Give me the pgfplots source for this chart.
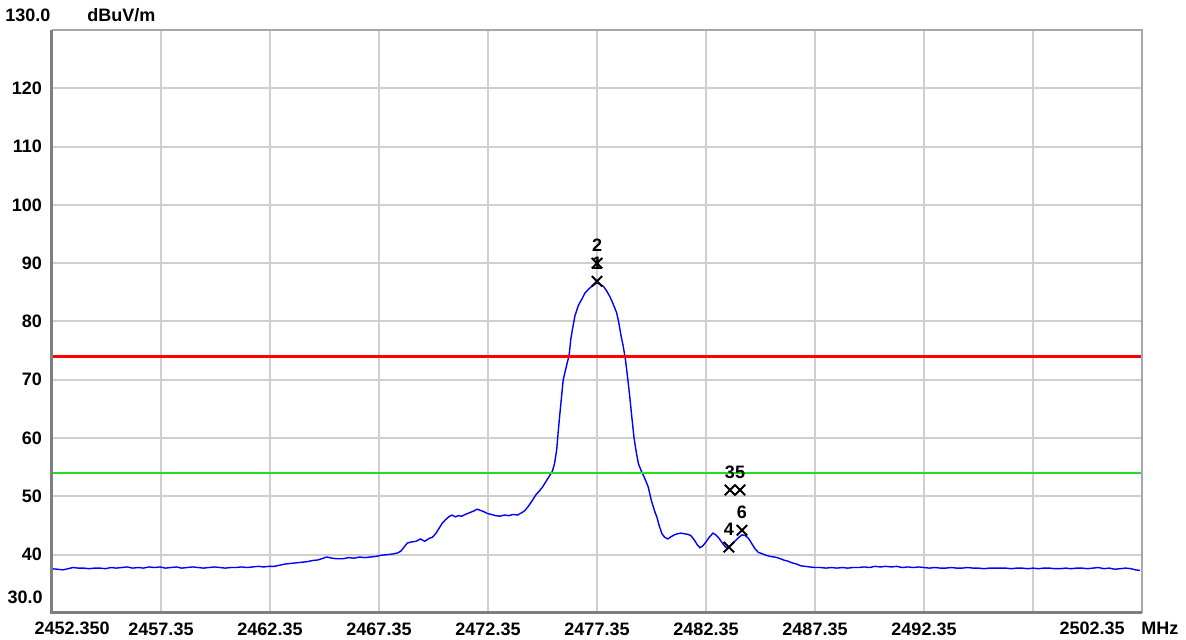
\documentclass[border=0pt]{standalone}
\usepackage{fontspec}
\setmainfont{Liberation Sans}
\usepackage{pgfplots}
\usepackage{pgfplotstable}
\pgfplotsset{compat=1.18}
\definecolor{gridc}{HTML}{CFCFCF}
\definecolor{framedark}{HTML}{7F7F7F}
\definecolor{framelight}{HTML}{A8A8A8}
\definecolor{limred}{HTML}{FF0000}
\definecolor{limgreen}{HTML}{22DD22}
\definecolor{trace}{HTML}{0000FF}
\newcommand{\lf}{\bfseries\fontsize{9}{10}\selectfont}

\pgfplotstableread{
x y
2452.35 37.6
2452.60 37.5
2452.85 37.4
2453.10 37.6
2453.30 37.8
2453.55 37.7
2453.80 37.7
2454.05 37.6
2454.30 37.7
2454.55 37.7
2454.80 37.6
2455.05 37.8
2455.30 37.7
2455.55 37.8
2455.80 37.9
2456.05 37.7
2456.30 37.8
2456.55 37.7
2456.80 37.9
2457.05 37.8
2457.30 37.9
2457.55 37.7
2457.80 37.8
2458.05 37.9
2458.30 37.7
2458.55 37.8
2458.80 37.9
2459.05 37.8
2459.30 37.7
2459.55 37.8
2459.80 37.9
2460.05 37.8
2460.30 37.7
2460.55 37.8
2460.80 37.8
2461.05 37.9
2461.30 37.8
2461.55 37.9
2461.80 38.0
2462.05 37.9
2462.30 38.0
2462.55 38.0
2462.80 38.2
2463.05 38.4
2463.30 38.5
2463.55 38.6
2463.80 38.7
2464.05 38.8
2464.30 39.0
2464.55 39.1
2464.80 39.4
2464.95 39.6
2465.20 39.4
2465.45 39.3
2465.70 39.3
2465.95 39.5
2466.20 39.4
2466.45 39.6
2466.70 39.5
2466.95 39.6
2467.20 39.7
2467.45 39.9
2467.70 40.0
2467.95 40.1
2468.20 40.3
2468.35 40.6
2468.50 41.3
2468.65 42.0
2468.85 42.2
2469.05 42.3
2469.25 42.7
2469.45 42.3
2469.65 42.8
2469.80 43.0
2469.95 43.6
2470.10 44.5
2470.25 45.4
2470.40 46.0
2470.55 46.5
2470.70 46.8
2470.85 46.5
2471.00 46.7
2471.15 46.6
2471.30 46.9
2471.50 47.2
2471.70 47.5
2471.85 47.8
2472.00 47.6
2472.15 47.4
2472.30 47.1
2472.50 46.9
2472.70 46.7
2472.90 46.6
2473.10 46.8
2473.30 46.7
2473.50 46.9
2473.70 46.8
2473.90 47.2
2474.05 47.6
2474.20 48.3
2474.40 49.4
2474.55 50.3
2474.70 50.9
2474.85 51.6
2475.00 52.5
2475.15 53.4
2475.30 54.3
2475.40 55.6
2475.50 58.0
2475.58 61.5
2475.65 64.3
2475.72 67.0
2475.80 70.0
2475.95 72.4
2476.07 74.2
2476.15 77.0
2476.22 78.6
2476.34 81.0
2476.50 82.8
2476.65 83.8
2476.80 84.9
2476.95 85.5
2477.10 86.0
2477.25 86.4
2477.35 86.6
2477.50 86.4
2477.65 86.0
2477.80 85.2
2477.95 84.2
2478.10 82.9
2478.25 81.5
2478.35 79.8
2478.45 77.6
2478.55 75.8
2478.65 73.6
2478.75 70.5
2478.85 67.2
2478.95 63.5
2479.05 60.0
2479.15 57.6
2479.25 55.6
2479.40 54.2
2479.55 53.0
2479.70 51.6
2479.85 49.2
2480.00 47.4
2480.10 46.4
2480.20 45.0
2480.33 43.6
2480.45 43.0
2480.60 42.7
2480.75 43.1
2480.90 43.4
2481.05 43.6
2481.20 43.7
2481.35 43.6
2481.50 43.5
2481.65 43.3
2481.80 42.6
2481.95 41.7
2482.07 41.2
2482.20 41.5
2482.35 42.2
2482.50 43.0
2482.67 43.7
2482.80 43.4
2482.95 42.8
2483.10 42.0
2483.25 41.3
2483.35 41.1
2483.50 41.6
2483.65 42.2
2483.80 42.8
2484.00 43.4
2484.15 43.3
2484.30 42.8
2484.45 41.9
2484.60 41.0
2484.75 40.4
2484.90 40.2
2485.10 39.9
2485.30 39.7
2485.50 39.6
2485.70 39.4
2485.90 39.1
2486.10 38.9
2486.30 38.6
2486.50 38.4
2486.70 38.1
2486.90 38.0
2487.10 37.9
2487.35 37.8
2487.60 37.8
2487.85 37.7
2488.10 37.8
2488.35 37.7
2488.60 37.8
2488.85 37.7
2489.10 37.8
2489.35 37.8
2489.60 37.9
2489.85 37.8
2490.10 38.0
2490.35 37.9
2490.60 38.0
2490.85 37.9
2491.10 38.0
2491.35 37.8
2491.60 37.9
2491.85 37.8
2492.10 37.9
2492.35 37.8
2492.60 37.7
2492.85 37.8
2493.10 37.7
2493.35 37.7
2493.60 37.8
2493.85 37.7
2494.10 37.7
2494.35 37.8
2494.60 37.7
2494.85 37.7
2495.10 37.6
2495.35 37.7
2495.60 37.7
2495.85 37.7
2496.10 37.7
2496.35 37.6
2496.60 37.7
2496.85 37.7
2497.10 37.6
2497.35 37.7
2497.60 37.6
2497.85 37.7
2498.10 37.7
2498.35 37.6
2498.60 37.6
2498.85 37.7
2499.10 37.6
2499.35 37.7
2499.60 37.7
2499.85 37.6
2500.10 37.7
2500.35 37.8
2500.60 37.6
2500.85 37.7
2501.10 37.5
2501.35 37.6
2501.60 37.7
2501.85 37.6
2502.05 37.4
2502.25 37.3
}\tracedata

\pgfplotstableread{
x y label
2477.35 86.9 1
2477.35 90.0 2
2483.45 51.1 3
2483.40 41.3 4
2483.91 51.1 5
2484.00 44.2 6
}\markerdata

\begin{document}
\begin{tikzpicture}
\useasboundingbox (-26pt,-13.5pt) rectangle (567pt,306.5pt);
\begin{axis}[
  at={(0,0)}, anchor=south west,
  scale only axis,
  width=545pt, height=291.5pt,
  xmin=2452.35, xmax=2502.35,
  ymin=30, ymax=130,
  clip=false,
  axis line style={draw=none},
  xtick={2452.35,2457.35,2462.35,2467.35,2472.35,2477.35,2482.35,2487.35,2492.35,2497.35,2502.35},
  xticklabels={,2457.35,2462.35,2467.35,2472.35,2477.35,2482.35,2487.35,2492.35,,},
  ytick={30,40,50,60,70,80,90,100,110,120,130},
  yticklabels={,40,50,60,70,80,90,100,110,120,},
  major tick length=0pt,
  grid=major,
  major grid style={draw=gridc, line width=1pt},
  tick label style={font=\lf, text=black},
  /pgf/number format/assume math mode=true,
  xticklabel style={yshift=-1.5pt},
  yticklabel style={xshift=-1.5pt},
]
\addplot[draw=trace, line width=0.7pt] table[x=x,y=y] {\tracedata};
\addplot[draw=limred, line width=1.6pt] coordinates {(2452.35,74) (2502.35,74)};
\addplot[draw=limgreen, line width=1pt] coordinates {(2452.35,54) (2502.35,54)};
\addplot[only marks, mark=x, mark size=3.7pt, mark options={draw=black, line width=1pt},
  point meta=explicit symbolic,
  nodes near coords,
  every node near coord/.append style={anchor=center, yshift=9pt, inner sep=0pt, font=\lf, text=black}]
  table[x=x,y=y,meta=label] {\markerdata};
% frame
\draw[framelight, line width=1pt] (rel axis cs:0,1) -- (rel axis cs:1,1) -- (rel axis cs:1,0);
\draw[framedark, line width=1.5pt] (rel axis cs:0,1) -- (rel axis cs:0,0) -- (rel axis cs:1,0);
% extra labels
\node[font=\lf, anchor=center] at (axis cs:2453.27,27.4) {2452.350};
\node[font=\lf, anchor=center] at (axis cs:2500.06,27.4) {2502.35};
\node[font=\lf, anchor=center] at (axis cs:2503.17,27.4) {MHz};
\node[font=\lf, anchor=east] at (axis cs:2452.25,32.7) {30.0};
\node[font=\lf, anchor=east] at (axis cs:2452.60,132.6) {130.0};
\node[font=\lf, anchor=west] at (axis cs:2453.65,132.6) {dBuV/m};
\end{axis}
\end{tikzpicture}
\end{document}
